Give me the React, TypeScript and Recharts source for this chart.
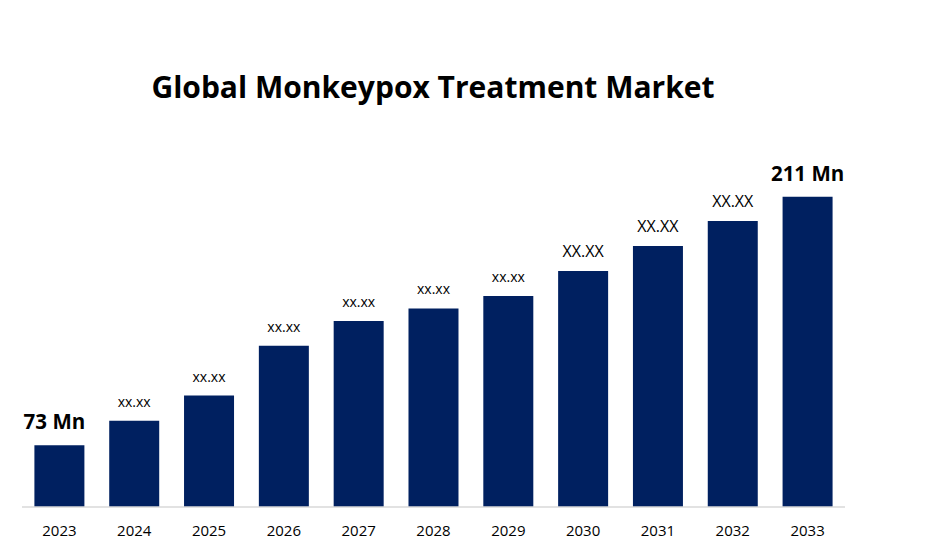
import { BarChart, Bar, XAxis, YAxis, LabelList } from "recharts";

const years = ["2023", "2024", "2025", "2026", "2027", "2028", "2029", "2030", "2031", "2032", "2033"];
const marketSize = [73, 86.7, 100.6, 128.3, 142, 149, 155.9, 169.8, 183.6, 197.5, 211];
const barLabels = ["73 Mn", "xx.xx", "xx.xx", "xx.xx", "xx.xx", "xx.xx", "xx.xx", "XX.XX", "XX.XX", "XX.XX", "211 Mn"];

const data = years.map((year, i) => ({ year, value: marketSize[i], label: barLabels[i] }));

const FONT = "'Open Sans', 'Liberation Sans', sans-serif";

function BarLabel(props: any) {
  const { x, y, width, index } = props;
  const text = barLabels[index];
  const big = text.includes("Mn");
  const upper = text === "XX.XX";
  const size = big ? 20.5 : upper ? 16 : 14;
  const shift = index === 0 ? -5 : 0;
  return (
    <text
      x={x + width / 2 + shift}
      y={y - (big ? 16 : 14)}
      textAnchor="middle"
      fontFamily={FONT}
      fontSize={size}
      fontWeight={big ? 700 : 400}
      fill="#000"
    >
      {text}
    </text>
  );
}

export default function App() {
  return (
    <div style={{ position: "fixed", top: 0, left: 0, width: 940, height: 556, background: "#fff" }}>
      <div
        style={{
          position: "absolute",
          top: 66,
          left: 0,
          width: 866,
          textAlign: "center",
          fontFamily: FONT,
          fontWeight: 700,
          fontSize: 30,
          color: "#000",
        }}
      >
        Global Monkeypox Treatment Market
      </div>
      <BarChart
        width={940}
        height={556}
        data={data}
        margin={{ top: 160, right: 95, bottom: 19, left: 22 }}
        barCategoryGap={12.4}
      >
        <XAxis
          dataKey="year"
          height={30}
          tickLine={false}
          axisLine={{ stroke: "#d9d9d9", strokeWidth: 1.5 }}
          tickMargin={12}
          tick={{ fill: "#000", fontSize: 15, fontFamily: FONT }}
          interval={0}
        />
        <YAxis hide domain={[38.75, 231.4]} />
        <Bar dataKey="value" fill="#002060" isAnimationActive={false}>
          <LabelList dataKey="label" content={BarLabel} />
        </Bar>
      </BarChart>
    </div>
  );
}
